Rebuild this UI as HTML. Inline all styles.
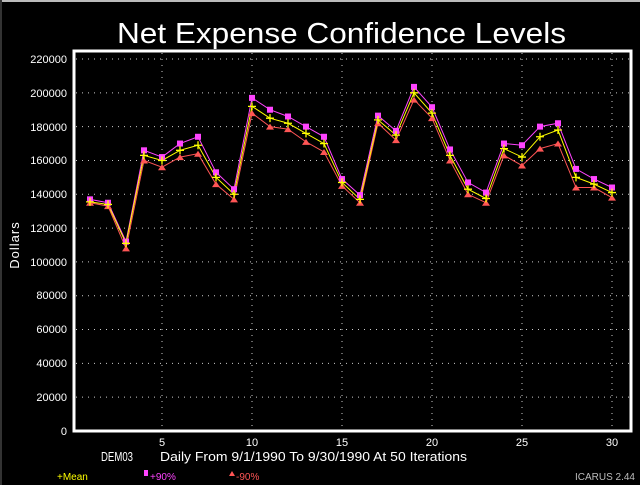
<!DOCTYPE html>
<html><head><style>
html,body{margin:0;padding:0;background:#000;}
svg{display:block;}
text{font-family:"Liberation Sans",sans-serif;}
</style></head><body>
<svg id="s" width="640" height="485" viewBox="0 0 640 485" xmlns="http://www.w3.org/2000/svg">
<rect x="0" y="0" width="640" height="485" fill="#000"/>
<rect x="0" y="0" width="640" height="2" fill="#bbb"/>
<rect x="0" y="0" width="2" height="485" fill="#333"/>
<text x="117" y="43" font-size="29" fill="#fff" textLength="449" lengthAdjust="spacingAndGlyphs">Net Expense Confidence Levels</text>
<g id="grid" stroke="#ccc" stroke-width="1" stroke-dasharray="1,5"></g>
<rect x="74" y="51" width="557" height="380" fill="none" stroke="#fff" stroke-width="3"/>
<g font-size="11" fill="#fff" text-anchor="end">
<text x="67" y="63">220000</text><text x="67" y="97">200000</text><text x="67" y="131">180000</text>
<text x="67" y="164">160000</text><text x="67" y="198">140000</text><text x="67" y="232">120000</text>
<text x="67" y="266">100000</text><text x="67" y="299">80000</text><text x="67" y="333">60000</text>
<text x="67" y="367">40000</text><text x="67" y="401">20000</text><text x="67" y="435">0</text>
</g>
<g font-size="11" fill="#fff" text-anchor="middle">
<text x="162" y="446">5</text><text x="252" y="446">10</text><text x="342" y="446">15</text>
<text x="432" y="446">20</text><text x="522" y="446">25</text><text x="612" y="446">30</text>
</g>
<text x="19" y="245" font-size="13" fill="#fff" text-anchor="middle" transform="rotate(-90 19 245)" letter-spacing="1">Dollars</text>
<text x="101" y="461" font-size="13" fill="#fff" textLength="32" lengthAdjust="spacingAndGlyphs">DEM03</text>
<text x="160" y="461" font-size="13" fill="#fff" textLength="307" lengthAdjust="spacingAndGlyphs">Daily From 9/1/1990 To 9/30/1990 At 50 Iterations</text>
<text x="57" y="480" font-size="10" fill="#ff0">+Mean</text>
<rect x="144" y="470" width="4" height="6" fill="#f4f"/>
<text x="150" y="480" font-size="10" fill="#f4f">+90%</text>
<polygon points="229,476 235,476 232,471" fill="#f55"/>
<text x="236" y="480" font-size="10" fill="#f55">-90%</text>
<text x="635" y="480" font-size="10" fill="#bbb" text-anchor="end">ICARUS 2.44</text>
<g id="series"></g>
</svg>
<script>
var NS="http://www.w3.org/2000/svg";
function X(d){return 90+(d-1)*18;}
function Y(v){return 431-v*372/220000;}
var g=document.getElementById("grid");
for(var i=1;i<=11;i++){var y=Y(i*20000);var l=document.createElementNS(NS,"line");l.setAttribute("x1",76);l.setAttribute("x2",630);l.setAttribute("y1",y);l.setAttribute("y2",y);g.appendChild(l);}
[5,10,15,20,25,30].forEach(function(d){var l=document.createElementNS(NS,"line");l.setAttribute("x1",X(d));l.setAttribute("x2",X(d));l.setAttribute("y1",53);l.setAttribute("y2",429);g.appendChild(l);});
var mean=[135.5,134,111,163,160,166,169,150,140,192,185,182,176,170,147,137,184,175,200,188,163,143,137.5,167,162,174,178,150,146,141];
var hi=[137,135,112,166,162,170,174,153,143,197,190,186,180,174,149,139.5,186.5,177.5,203.5,191.5,166.5,147,141,170,169,180,182,155,149,144];
var lo=[135,133,108,160,156,162,164,146,137,188,180,178.5,171,165,145,135,182,172,196,185,160,140,135,163,157,167,170,144,144,138];
var s=document.getElementById("series");
function line(d,c){var p=d.map(function(v,i){return X(i+1)+","+Y(v*1000)}).join(" ");var e=document.createElementNS(NS,"polyline");e.setAttribute("points",p);e.setAttribute("fill","none");e.setAttribute("stroke",c);e.setAttribute("stroke-width","1");s.appendChild(e);}
line(lo,"#f55");line(hi,"#f4f");line(mean,"#ff0");
lo.forEach(function(v,i){var x=X(i+1),y=Y(v*1000);var e=document.createElementNS(NS,"polygon");e.setAttribute("points",(x-4)+","+(y+3)+" "+(x+4)+","+(y+3)+" "+x+","+(y-3));e.setAttribute("fill","#f55");s.appendChild(e);});
hi.forEach(function(v,i){var x=X(i+1),y=Y(v*1000);var e=document.createElementNS(NS,"rect");e.setAttribute("x",x-3);e.setAttribute("y",y-3);e.setAttribute("width",6);e.setAttribute("height",6);e.setAttribute("fill","#f4f");s.appendChild(e);});
mean.forEach(function(v,i){var x=X(i+1),y=Y(v*1000);var e=document.createElementNS(NS,"path");e.setAttribute("d","M"+(x-4)+" "+y+"H"+(x+4)+"M"+x+" "+(y-4)+"V"+(y+4));e.setAttribute("stroke","#ff0");e.setAttribute("stroke-width","1.3");s.appendChild(e);});
</script>
</body></html>
